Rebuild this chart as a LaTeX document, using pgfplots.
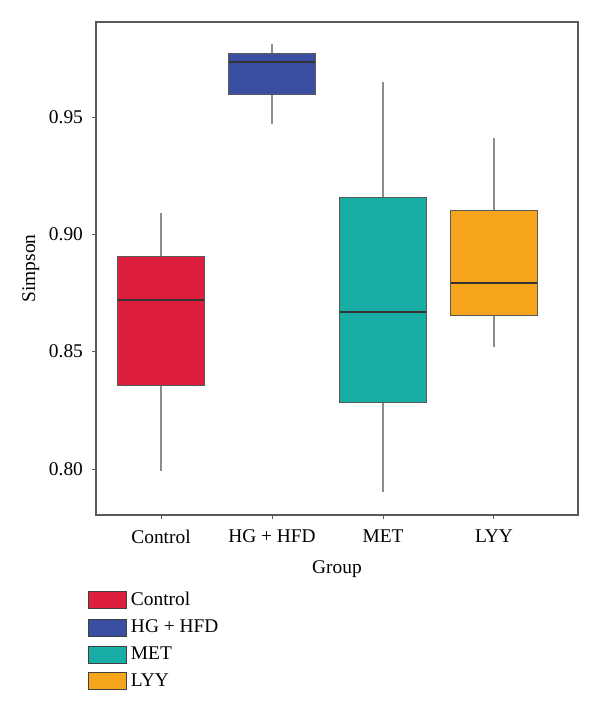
\documentclass[border=0pt]{standalone}
\usepackage{fontspec}
\setmainfont{Liberation Serif}
\usepackage{pgfplots}
\pgfplotsset{compat=1.18}
\usepgfplotslibrary{statistics}
\definecolor{cCtrl}{RGB}{221,30,60}
\definecolor{cHG}{RGB}{58,78,162}
\definecolor{cMET}{RGB}{25,174,165}
\definecolor{cLYY}{RGB}{246,164,28}
\begin{document}
\begin{tikzpicture}
\begin{axis}[name=ax, scale only axis, width=241pt, height=246.5pt,
 xmin=-0.586, xmax=3.757, ymin=0.7804, ymax=0.9905,
 xtick={0,1,2,3}, xticklabels={Control, HG + HFD, MET, LYY},
 ytick={0.80,0.85,0.90,0.95},
 yticklabel style={/pgf/number format/fixed, /pgf/number format/fixed zerofill, /pgf/number format/precision=2, xshift=-1pt},
 xticklabel style={yshift=-2pt},
 /pgf/number format/assume math mode=true,
 tick align=outside, tick pos=left, major tick length=2pt,
 axis line style={draw=black!65, line width=0.6pt},
 every tick/.style={black!65, line width=0.5pt},
 font=\fontsize{9.7}{11}\selectfont,
 xlabel=Group, ylabel=Simpson,
 xlabel style={yshift=-1.5pt},
 ylabel style={yshift=-2pt},
 boxplot/draw direction=y,
 boxplot/box extend=0.78,
 boxplot/whisker extend=0,
 boxplot/every whisker/.style={draw=black!45, line width=0.55pt},
 boxplot/every median/.style={draw=black!80, line width=0.9pt},
 boxplot/every box/.style={draw=black!65, line width=0.5pt},
 legend style={draw=none, fill=none, at={(-0.0166,-0.148)}, anchor=north west, inner sep=0pt, outer sep=0pt, row sep=1.6pt, cells={anchor=west}, font=\fontsize{9.7}{11}\selectfont},
 legend cell align=left,
 legend image code/.code={\draw[#1, line width=0.5pt] (0pt,-4.25pt) rectangle (19pt,4.25pt);},
]
\addplot[forget plot, draw=black!65, fill=cCtrl, boxplot prepared={draw position=0, lower whisker=0.7993, lower quartile=0.8355, median=0.872, upper quartile=0.8905, upper whisker=0.909}] coordinates {};
\addplot[forget plot, draw=black!65, fill=cHG, boxplot prepared={draw position=1, lower whisker=0.947, lower quartile=0.9598, median=0.9734, upper quartile=0.9772, upper whisker=0.981}] coordinates {};
\addplot[forget plot, draw=black!65, fill=cMET, boxplot prepared={draw position=2, lower whisker=0.7903, lower quartile=0.8284, median=0.867, upper quartile=0.9159, upper whisker=0.965}] coordinates {};
\addplot[forget plot, draw=black!65, fill=cLYY, boxplot prepared={draw position=3, lower whisker=0.8521, lower quartile=0.8656, median=0.8792, upper quartile=0.910, upper whisker=0.941}] coordinates {};
\addlegendimage{draw=black!75, fill=cCtrl}
\addlegendentry{Control}
\addlegendimage{draw=black!75, fill=cHG}
\addlegendentry{HG + HFD}
\addlegendimage{draw=black!75, fill=cMET}
\addlegendentry{MET}
\addlegendimage{draw=black!75, fill=cLYY}
\addlegendentry{LYY}
\end{axis}
\path[use as bounding box] ([xshift=-48pt,yshift=-98.5pt]ax.south west) rectangle ([xshift=11pt,yshift=11pt]ax.north east);
\end{tikzpicture}
\end{document}
